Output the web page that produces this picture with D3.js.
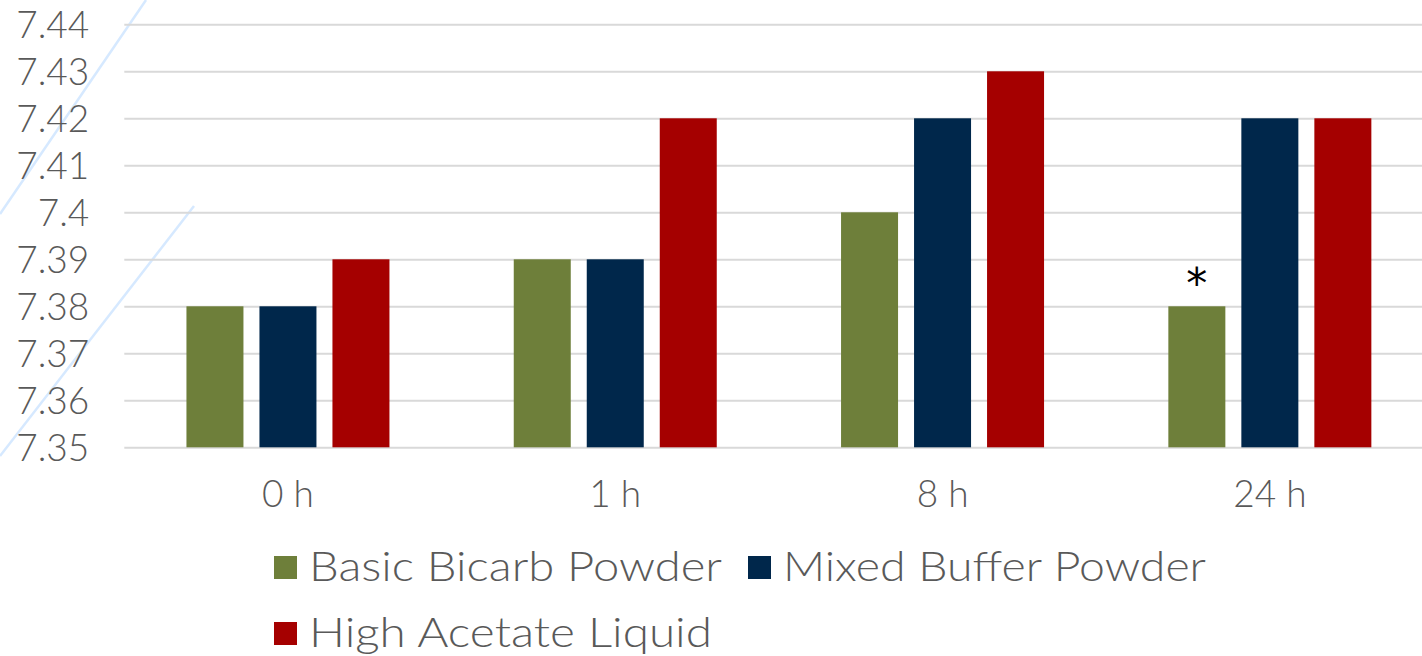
<!DOCTYPE html>
<html>
<head>
<meta charset="utf-8">
<script src="https://cdn.jsdelivr.net/npm/d3@7"></script>
<style>
  html, body { margin: 0; padding: 0; background: #ffffff; }
  svg { display: block; }
  text { font-family: "Lato", "Open Sans", sans-serif; font-weight: 300; fill: #595959; }
</style>
</head>
<body>
<svg id="chart" width="1422" height="656"></svg>
<script>
// Blood pH over time, by dialysate type
const categories = ["0 h", "1 h", "8 h", "24 h"];
const seriesNames = ["Basic Bicarb Powder", "Mixed Buffer Powder", "High Acetate Liquid"];
const basicBicarb = [7.38, 7.39, 7.40, 7.38];
const mixedBuffer = [7.38, 7.39, 7.42, 7.42];
const highAcetate = [7.39, 7.42, 7.43, 7.42];
const seriesColors = ["#6E7F3A", "#00274B", "#A50000"];
const yTicks = [7.35, 7.36, 7.37, 7.38, 7.39, 7.4, 7.41, 7.42, 7.43, 7.44];
const yTickLabels = ["7.35", "7.36", "7.37", "7.38", "7.39", "7.4", "7.41", "7.42", "7.43", "7.44"];
// significance marker: series index, category index
const markers = [{ series: 0, category: 3, label: "*" }];

const seriesValues = [basicBicarb, mixedBuffer, highAcetate];

const svg = d3.select("#chart");
const labelFont = '"Lato", "Open Sans", sans-serif';

// decorative background strokes
const deco = svg.append("g").attr("stroke", "#d6e9ff").attr("stroke-width", 2.5).attr("fill", "none");
deco.append("line").attr("x1", 146).attr("y1", 0).attr("x2", 0).attr("y2", 214);
deco.append("line").attr("x1", 194).attr("y1", 206).attr("x2", 0).attr("y2", 456);

const plotLeft = 124.3, plotRight = 1433.5;
const y = d3.scaleLinear().domain([7.35, 7.44]).range([447.3, 24.3]);
const x0 = d3.scaleBand().domain(categories).range([plotLeft, plotRight]).paddingInner(0).paddingOuter(0);
const x1 = d3.scaleBand().domain(seriesNames).range([-101.5, 101.5]).paddingInner(16 / 73).paddingOuter(0);

// gridlines and value labels
const yAxis = d3.axisLeft(y).tickValues(yTicks)
  .tickSize(-(plotRight - plotLeft))
  .tickFormat((d, i) => yTickLabels[i]);
const gy = svg.append("g").attr("transform", `translate(${plotLeft},0)`).call(yAxis);
gy.select(".domain").remove();
gy.selectAll(".tick line").attr("stroke", "#d9d9d9").attr("stroke-width", 2);
gy.selectAll(".tick text")
  .attr("x", -35).attr("dy", "0.36em")
  .attr("font-size", 37).style("fill", "#595959")
  .style("font-family", labelFont).style("font-weight", 300);

// bars
const rows = [];
categories.forEach((c, ci) => seriesNames.forEach((s, si) => {
  rows.push({ category: c, series: s, si, value: seriesValues[si][ci] });
}));

svg.append("g").selectAll("rect").data(rows).join("rect")
  .attr("x", d => x0(d.category) + x0.bandwidth() / 2 + x1(d.series))
  .attr("width", x1.bandwidth())
  .attr("y", d => y(d.value))
  .attr("height", d => y(7.35) - y(d.value))
  .attr("fill", d => seriesColors[d.si]);

// category labels
const xAxis = d3.axisBottom(x0).tickSize(0).tickPadding(0);
const gx = svg.append("g").attr("transform", `translate(0,${y(7.35)})`).call(xAxis);
gx.select(".domain").remove();
gx.selectAll(".tick text")
  .attr("y", 60).attr("dy", 0)
  .attr("font-size", 37).style("fill", "#595959")
  .style("font-family", labelFont).style("font-weight", 300);

// significance markers
svg.append("g").selectAll("text").data(markers).join("text")
  .attr("x", d => x0(categories[d.category]) + x0.bandwidth() / 2 + x1(seriesNames[d.series]) + x1.bandwidth() / 2)
  .attr("y", d => y(seriesValues[d.series][d.category]) - 8)
  .attr("text-anchor", "middle")
  .attr("font-size", 42)
  .style("fill", "#000000").style("font-weight", 400)
  .style("font-family", '"DejaVu Sans", sans-serif')
  .text(d => d.label);

// legend
const legendItems = [
  { x: 274, y: 556, w: 413 },
  { x: 748, y: 556, w: 423 },
  { x: 274, y: 622, w: 403 }
];
const lg = svg.append("g").selectAll("g").data(seriesNames).join("g")
  .attr("transform", (d, i) => `translate(${legendItems[i].x},${legendItems[i].y})`);
lg.append("rect").attr("width", 23).attr("height", 23).attr("fill", (d, i) => seriesColors[i]);
lg.append("text")
  .attr("x", 35).attr("y", 24.5)
  .attr("font-size", 41)
  .attr("textLength", (d, i) => legendItems[i].w)
  .attr("lengthAdjust", "spacingAndGlyphs")
  .text(d => d);
</script>
</body>
</html>
